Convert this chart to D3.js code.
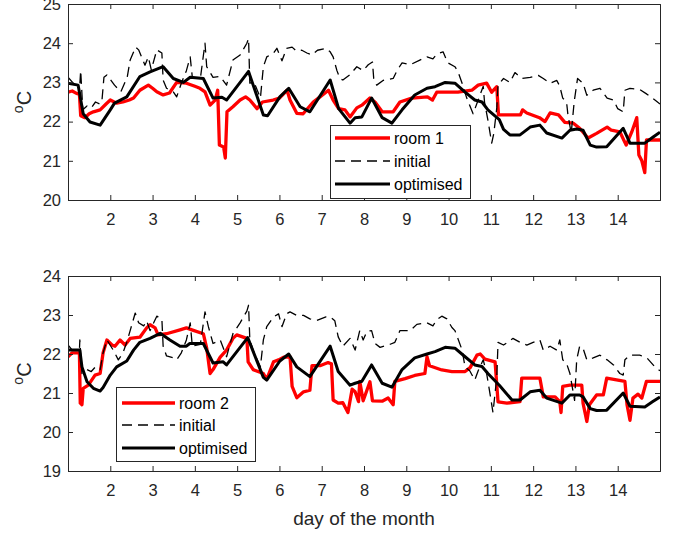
<!DOCTYPE html>
<html><head><meta charset="utf-8">
<script src="https://cdn.jsdelivr.net/npm/d3@7"></script>
<style>
body{margin:0;background:#fff;}
svg{display:block;font-family:"Liberation Sans",Arial,Helvetica,sans-serif;}
</style></head>
<body>
<svg id="chart" width="678" height="535"></svg>
<script>
// ---------- data ----------
const xTicks = [2,3,4,5,6,7,8,9,10,11,12,13,14];
const yTicksTop = [20,21,22,23,24,25];
const yTicksBottom = [19,20,21,22,23,24];
const legendTop = ["room 1","initial","optimised"];
const legendBottom = ["room 2","initial","optimised"];
const xLabel = "day of the month";

const room1 = [[1.0,22.75],[1.1,22.78],[1.2,22.72],[1.27,22.7],[1.3,22.15],[1.4,22.1],[1.5,22.2],[1.6,22.25],[1.76,22.3],[1.9,22.45],[2.0,22.55],[2.15,22.47],[2.3,22.5],[2.45,22.55],[2.55,22.6],[2.7,22.8],[2.9,22.93],[3.0,22.85],[3.1,22.76],[3.25,22.68],[3.4,22.73],[3.57,23.0],[3.8,22.98],[4.0,22.9],[4.12,22.85],[4.24,22.76],[4.36,22.42],[4.48,22.55],[4.54,22.8],[4.58,21.4],[4.68,21.35],[4.72,21.07],[4.76,22.25],[4.9,22.38],[5.07,22.55],[5.2,22.63],[5.3,22.55],[5.47,22.33],[5.6,22.5],[5.85,22.55],[6.0,22.6],[6.18,22.8],[6.25,22.55],[6.41,22.21],[6.56,22.2],[6.8,22.5],[6.96,22.63],[7.16,22.8],[7.27,22.55],[7.4,22.33],[7.55,22.3],[7.67,22.12],[7.83,22.35],[7.95,22.42],[8.14,22.6],[8.26,22.5],[8.43,22.25],[8.69,22.25],[8.85,22.5],[9.13,22.6],[9.5,22.63],[9.62,22.55],[9.72,22.75],[10.22,22.75],[10.55,22.8],[10.7,22.93],[10.9,22.98],[11.02,22.75],[11.14,22.89],[11.18,22.17],[11.7,22.17],[11.75,22.3],[11.85,22.22],[12.15,22.1],[12.28,22.0],[12.4,22.22],[12.6,22.17],[12.75,21.98],[12.95,21.96],[13.1,21.83],[13.3,21.58],[13.5,21.7],[13.75,21.86],[13.85,21.78],[14.05,21.74],[14.2,21.4],[14.33,21.73],[14.45,22.1],[14.5,21.15],[14.57,21.0],[14.64,20.7],[14.68,21.53],[15.0,21.53]];

const initial1 = [[1.0,23.13],[1.15,22.95],[1.28,22.95],[1.3,23.3],[1.35,22.3],[1.45,22.4],[1.55,22.35],[1.65,22.5],[1.75,22.45],[1.8,22.5],[1.85,23.13],[1.92,23.19],[2.1,22.93],[2.25,22.76],[2.4,23.13],[2.47,23.57],[2.6,23.9],[2.67,23.83],[2.74,23.65],[2.82,23.44],[2.9,23.65],[2.97,23.32],[3.1,23.83],[3.22,23.75],[3.25,23.06],[3.33,22.85],[3.49,22.76],[3.57,22.63],[3.68,22.98],[3.8,23.3],[3.89,23.65],[3.94,23.13],[4.13,23.1],[4.24,24.0],[4.28,23.4],[4.43,23.13],[4.6,23.15],[4.75,22.93],[4.9,23.57],[5.07,23.7],[5.23,24.0],[5.27,24.12],[5.3,22.98],[5.4,23.0],[5.55,22.6],[5.62,23.4],[5.7,23.65],[5.86,23.75],[5.94,23.87],[6.06,23.55],[6.17,23.87],[6.3,23.9],[6.4,23.8],[6.53,23.82],[6.65,23.75],[6.77,23.7],[6.9,23.82],[7.1,23.87],[7.2,23.78],[7.27,23.65],[7.36,23.3],[7.43,23.1],[7.5,23.06],[7.67,23.2],[7.83,23.4],[7.98,23.3],[8.1,23.45],[8.2,23.52],[8.23,23.1],[8.3,22.93],[8.45,23.05],[8.69,23.1],[8.78,23.3],[8.9,23.5],[9.09,23.45],[9.32,23.57],[9.49,23.65],[9.63,23.6],[9.72,23.72],[9.87,23.78],[9.98,23.5],[10.15,23.4],[10.22,23.28],[10.32,22.98],[10.43,22.6],[10.58,22.2],[10.7,22.55],[10.82,22.9],[10.85,22.5],[10.93,22.04],[11.02,21.45],[11.07,21.7],[11.14,22.35],[11.17,22.93],[11.3,23.1],[11.45,23.0],[11.57,23.25],[11.73,23.1],[11.93,23.13],[12.12,23.18],[12.24,23.1],[12.4,22.98],[12.56,23.05],[12.63,22.9],[12.7,22.6],[12.79,22.5],[12.82,22.2],[12.9,21.7],[12.97,22.5],[13.05,23.1],[13.18,22.98],[13.27,22.67],[13.42,22.8],[13.58,22.85],[13.75,22.6],[13.9,22.55],[14.0,22.33],[14.13,22.25],[14.17,22.8],[14.29,22.85],[14.52,22.82],[14.69,22.7],[14.88,22.55],[15.0,22.45]];

const optimised1 = [[1.0,22.98],[1.24,22.93],[1.36,22.2],[1.52,21.99],[1.76,21.91],[2.0,22.3],[2.1,22.47],[2.39,22.63],[2.7,23.15],[2.94,23.27],[3.25,23.4],[3.49,23.1],[3.73,23.0],[3.89,23.13],[4.2,23.1],[4.43,22.6],[4.64,22.62],[4.75,22.55],[5.27,23.28],[5.62,22.17],[5.72,22.15],[6.01,22.63],[6.22,22.85],[6.49,22.38],[6.72,22.25],[7.2,23.06],[7.4,22.33],[7.67,21.96],[7.79,22.1],[7.95,22.12],[8.18,22.6],[8.43,22.1],[8.66,21.96],[8.9,22.3],[9.2,22.68],[9.49,22.85],[9.68,22.89],[9.92,23.0],[10.15,22.98],[10.39,22.75],[10.62,22.55],[10.79,22.5],[10.93,22.3],[11.2,22.05],[11.3,21.8],[11.45,21.66],[11.69,21.66],[11.93,21.86],[12.16,21.91],[12.32,21.71],[12.68,21.58],[12.87,21.78],[13.03,21.81],[13.18,21.78],[13.35,21.4],[13.5,21.35],[13.74,21.36],[14.13,21.83],[14.29,21.45],[14.64,21.45],[14.83,21.6],[15.0,21.73]];

const room2 = [[1.0,21.93],[1.1,22.03],[1.27,22.03],[1.29,20.74],[1.33,20.7],[1.36,21.12],[1.48,21.2],[1.64,21.46],[1.76,21.5],[1.83,22.03],[1.92,22.36],[2.04,22.23],[2.11,22.2],[2.23,22.36],[2.35,22.23],[2.47,22.4],[2.7,22.43],[2.86,22.67],[2.94,22.75],[3.06,22.67],[3.13,22.49],[3.33,22.52],[3.65,22.62],[3.8,22.67],[3.93,22.62],[4.2,22.52],[4.28,22.15],[4.36,21.5],[4.43,21.6],[4.6,21.92],[4.75,22.1],[4.9,22.4],[4.99,22.49],[5.23,22.4],[5.26,21.8],[5.38,21.6],[5.62,21.5],[5.7,21.35],[5.86,21.8],[5.98,21.85],[6.1,21.92],[6.25,21.93],[6.3,21.17],[6.41,20.88],[6.57,21.03],[6.72,21.07],[6.77,21.7],[6.96,21.7],[7.15,21.78],[7.23,21.75],[7.27,20.82],[7.39,20.74],[7.5,20.75],[7.62,20.5],[7.72,21.1],[7.79,21.03],[7.87,20.78],[7.9,21.3],[7.98,20.8],[8.14,21.29],[8.2,20.8],[8.43,20.79],[8.57,20.87],[8.69,20.7],[8.73,21.3],[8.97,21.37],[9.2,21.45],[9.44,21.5],[9.49,21.93],[9.55,21.7],[9.84,21.59],[10.08,21.55],[10.39,21.55],[10.51,21.65],[10.67,21.97],[10.75,22.0],[10.86,21.87],[11.1,21.8],[11.17,20.77],[11.38,20.74],[11.69,20.78],[11.73,21.38],[12.16,21.38],[12.24,20.9],[12.52,20.9],[12.63,20.78],[12.66,20.5],[12.7,21.17],[12.87,21.2],[13.15,21.2],[13.18,20.74],[13.27,20.27],[13.33,20.7],[13.5,20.95],[13.66,20.95],[13.74,21.38],[14.17,21.3],[14.22,20.7],[14.29,20.3],[14.36,20.87],[14.48,20.97],[14.57,20.87],[14.68,21.3],[15.0,21.3]];

const initial2 = [[1.0,22.23],[1.1,22.1],[1.27,22.1],[1.28,22.36],[1.33,21.5],[1.45,21.6],[1.55,21.55],[1.65,21.67],[1.76,21.6],[1.83,22.03],[1.92,22.36],[2.07,22.1],[2.19,21.85],[2.3,22.03],[2.39,22.3],[2.47,22.6],[2.59,23.05],[2.67,22.8],[2.79,22.72],[2.86,22.85],[2.94,22.6],[3.1,22.97],[3.22,22.9],[3.25,22.2],[3.33,21.95],[3.49,21.9],[3.57,21.85],[3.68,22.03],[3.8,22.36],[3.89,22.8],[3.94,22.2],[4.13,22.25],[4.24,23.08],[4.32,22.7],[4.43,22.27],[4.6,22.36],[4.75,21.93],[4.9,22.52],[5.07,22.8],[5.23,23.1],[5.27,23.25],[5.3,22.36],[5.4,22.03],[5.55,21.67],[5.62,22.36],[5.7,22.7],[5.86,22.95],[5.98,23.03],[6.06,22.7],[6.17,23.03],[6.25,23.08],[6.41,22.99],[6.57,22.99],[6.72,22.9],[6.88,22.86],[7.1,22.95],[7.2,22.95],[7.31,22.85],[7.39,22.44],[7.5,22.2],[7.67,22.4],[7.79,22.1],[7.9,22.6],[7.98,22.36],[8.07,22.58],[8.18,22.6],[8.26,22.27],[8.38,22.17],[8.62,22.25],[8.73,22.3],[8.85,22.6],[9.09,22.6],[9.25,22.76],[9.49,22.8],[9.63,22.72],[9.72,22.88],[9.84,22.97],[9.96,22.9],[10.08,22.68],[10.15,22.6],[10.22,22.4],[10.32,22.1],[10.39,21.67],[10.5,21.57],[10.62,21.33],[10.7,21.57],[10.82,21.85],[10.9,21.5],[10.98,20.98],[11.05,20.5],[11.14,21.4],[11.17,22.3],[11.3,22.23],[11.4,22.3],[11.52,22.4],[11.69,22.3],[11.85,22.23],[12.0,22.3],[12.16,22.36],[12.24,22.1],[12.4,22.2],[12.56,22.1],[12.63,22.36],[12.7,21.85],[12.79,21.76],[12.87,21.5],[12.98,20.81],[13.03,21.85],[13.1,22.2],[13.18,22.15],[13.27,21.85],[13.42,21.9],[13.58,21.97],[13.75,21.85],[13.9,21.72],[14.05,21.5],[14.13,21.46],[14.17,21.85],[14.29,21.97],[14.52,21.97],[14.69,21.9],[14.88,21.67],[15.0,21.57]];

const optimised2 = [[1.0,22.1],[1.28,22.1],[1.33,21.67],[1.45,21.29],[1.6,21.12],[1.76,21.05],[1.83,21.14],[2.0,21.46],[2.15,21.67],[2.39,21.82],[2.55,22.1],[2.7,22.3],[2.94,22.4],[3.18,22.53],[3.41,22.36],[3.65,22.2],[3.8,22.2],[3.88,22.27],[4.2,22.27],[4.43,21.77],[4.67,21.8],[4.75,21.72],[5.25,22.42],[5.62,21.4],[5.7,21.33],[6.01,21.82],[6.22,22.0],[6.41,21.67],[6.72,21.42],[7.2,22.2],[7.39,21.55],[7.67,21.2],[7.79,21.25],[7.95,21.3],[8.18,21.72],[8.43,21.25],[8.66,21.15],[8.9,21.6],[9.2,21.9],[9.49,22.0],[9.68,22.06],[9.92,22.17],[10.15,22.15],[10.39,21.93],[10.62,21.72],[10.79,21.68],[10.93,21.5],[11.2,21.2],[11.5,20.82],[11.69,20.82],[11.93,21.03],[12.16,21.07],[12.32,20.87],[12.68,20.74],[12.87,20.95],[13.1,20.95],[13.18,20.9],[13.35,20.6],[13.5,20.55],[13.74,20.56],[14.13,21.0],[14.29,20.66],[14.64,20.64],[14.83,20.78],[15.0,20.9]];

// ---------- drawing ----------
const svg = d3.select("#chart");
const axisColor = "#262626";
const left = 68, right = 660;
const x = d3.scaleLinear().domain([1,15]).range([left,right]);

const panels = [
  {top:4, bottom:200, yDomain:[20,25], yTicks:yTicksTop, series:[room1,initial1,optimised1], legend:legendTop,
   legendBox:{x:330,y:125,w:140,h:73}, legendRows:[138,161,184], lx1:335, lx2:390, tx:394, id:"c1"},
  {top:276, bottom:471, yDomain:[19,24], yTicks:yTicksBottom, series:[room2,initial2,optimised2], legend:legendBottom,
   legendBox:{x:116,y:387,w:139,h:74}, legendRows:[403,425,448], lx1:122, lx2:175, tx:179, id:"c2"}
];

const styles = [
  {stroke:"#ff0000", width:3.3, dash:null},
  {stroke:"#000000", width:1.3, dash:"10,6"},
  {stroke:"#000000", width:3, dash:null}
];

panels.forEach(p => {
  const y = d3.scaleLinear().domain(p.yDomain).range([p.bottom,p.top]);
  const g = svg.append("g");

  g.append("rect").attr("x",left).attr("y",p.top).attr("width",right-left).attr("height",p.bottom-p.top).attr("fill","#fff");

  svg.append("clipPath").attr("id",p.id).append("rect")
    .attr("x",left).attr("y",p.top).attr("width",right-left).attr("height",p.bottom-p.top);

  const line = d3.line().x(d=>x(d[0])).y(d=>y(d[1]));
  const lg = g.append("g").attr("clip-path",`url(#${p.id})`);
  p.series.forEach((s,i) => {
    const st = styles[i];
    lg.append("path").datum(s).attr("d",line).attr("fill","none")
      .attr("stroke",st.stroke).attr("stroke-width",st.width)
      .attr("stroke-linejoin","round")
      .attr("stroke-dasharray",st.dash);
  });

  // axes
  const bAxis = d3.axisBottom(x).tickValues(xTicks).tickSize(-5).tickPadding(13).tickFormat(d3.format("d"));
  const tAxis = d3.axisTop(x).tickValues(xTicks).tickSize(-5).tickFormat("");
  const lAxis = d3.axisLeft(y).tickValues(p.yTicks).tickSize(-5).tickPadding(7).tickFormat(d3.format("d"));
  const rAxis = d3.axisRight(y).tickValues(p.yTicks).tickSize(-5).tickFormat("");

  const ax = [
    g.append("g").attr("transform",`translate(0,${p.bottom})`).call(bAxis),
    g.append("g").attr("transform",`translate(0,${p.top})`).call(tAxis),
    g.append("g").attr("transform",`translate(${left},0)`).call(lAxis),
    g.append("g").attr("transform",`translate(${right},0)`).call(rAxis)
  ];
  ax.forEach(a => {
    a.select(".domain").attr("stroke",axisColor).attr("stroke-width",1);
    a.selectAll(".tick line").attr("stroke",axisColor).attr("stroke-width",1);
    a.selectAll(".tick text").attr("fill",axisColor).style("font-size","16.5px")
      .style("font-family","'Liberation Sans',Arial,sans-serif");
  });

  // y label  °C
  const yl = g.append("text")
    .attr("transform",`translate(31,${(p.top+p.bottom)/2}) rotate(-90)`)
    .attr("text-anchor","middle").attr("fill",axisColor)
    .style("font-size","20px");
  yl.append("tspan").text("o").attr("dy","-8").style("font-size","14px");
  yl.append("tspan").text("C").attr("dy","8");

  // legend
  const b = p.legendBox;
  g.append("rect").attr("x",b.x+0.5).attr("y",b.y+0.5).attr("width",b.w).attr("height",b.h)
    .attr("fill","#fff").attr("stroke",axisColor).attr("stroke-width",1);
  p.legend.forEach((name,i) => {
    const st = styles[i];
    const yy = p.legendRows[i];
    g.append("line").attr("x1",p.lx1).attr("x2",p.lx2).attr("y1",yy).attr("y2",yy)
      .attr("stroke",st.stroke).attr("stroke-width",st.width).attr("stroke-dasharray",st.dash);
    g.append("text").attr("x",p.tx).attr("y",yy).attr("dy","0.35em")
      .attr("fill","#000").style("font-size","16px").text(name);
  });
});

svg.append("text").attr("x",(left+right)/2).attr("y",525).attr("text-anchor","middle")
  .attr("fill",axisColor).style("font-size","19px").text(xLabel);
</script>
</body></html>
